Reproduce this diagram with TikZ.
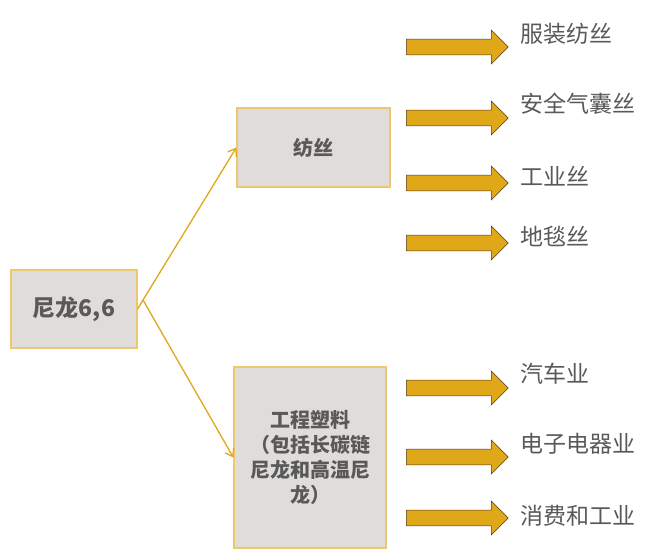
\documentclass[tikz,border=0pt]{standalone}
\usepackage{fontspec}
\newfontfamily\cjk{Noto Sans CJK SC}
\usetikzlibrary{shapes.arrows,arrows.meta}
\definecolor{boxfill}{HTML}{E0DCD9}
\definecolor{boxline}{HTML}{EEC870}
\definecolor{gold}{HTML}{E0A818}
\definecolor{txt}{HTML}{595959}
\begin{document}
\begin{tikzpicture}[x=1pt,y=-1pt,
  box/.style={draw=boxline,line width=1.2pt,fill=boxfill,text=txt,font=\cjk\bfseries\fontsize{20}{25}\selectfont,align=center,inner sep=0pt},
  blk/.style={single arrow,draw=black!55!brown,line width=0.5pt,fill=gold,minimum height=102pt,minimum width=34pt,inner sep=7.5pt,single arrow head extend=9pt,anchor=west},
  lab/.style={text=txt,font=\cjk\fontsize{23}{26}\selectfont,anchor=west,inner sep=0pt},
  con/.style={draw=gold,line width=1.3pt,-{Straight Barb[length=7pt,width=10pt]}}]
\useasboundingbox (0,0) rectangle (646,557);
\node[box,minimum width=126pt,minimum height=78pt,font=\cjk\bfseries\fontsize{23}{27}\selectfont] (a) at (74,309) {尼龙6,6};
\node[box,minimum width=153pt,minimum height=79pt] (b) at (313.5,147.5) {纺丝};
\node[box,minimum width=152pt,minimum height=181pt] (c) at (310,457.5) {工程塑料\\（包括长碳链\\尼龙和高温尼\\龙）};
\coordinate (p) at (143,300);
\draw[con] (a.east) -- (p) -- (b.west);
\draw[con] (p) -- (c.west);
\foreach \y/\t/\ty [count=\i] in {47/服装纺丝/34,118/安全气囊丝/104,183/工业丝/176,243/地毯丝/236,388/汽车业/374,457/电子电器业/444,518/消费和工业/516}{
  \node[blk] (r\i) at (406,\y) {};
  \node[lab] (t\i) at (520,\ty) {\t};
}
\end{tikzpicture}
\end{document}
